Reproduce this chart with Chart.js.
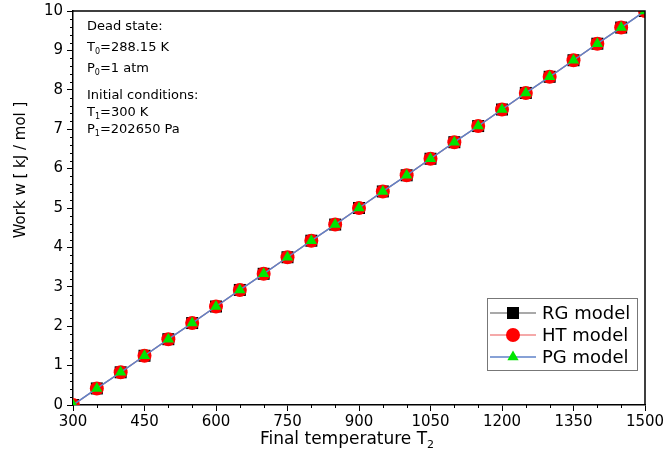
<!DOCTYPE html>
<html>
<head>
<meta charset="utf-8">
<script src="https://cdn.jsdelivr.net/npm/chart.js@4.4.0/dist/chart.umd.min.js"></script>
<style>
  html, body { margin: 0; padding: 0; background: #fff; }
  #c { display: block; }
</style>
</head>
<body>
<canvas id="c" width="664" height="457"></canvas>
<script>
// data
const temps = [300, 350, 400, 450, 500, 550, 600, 650, 700, 750, 800, 850, 900,
  950, 1000, 1050, 1100, 1150, 1200, 1250, 1300, 1350, 1400, 1450, 1500];
const rgWork = [0, 0.42, 0.83, 1.25, 1.67, 2.08, 2.50, 2.92, 3.33, 3.75, 4.17, 4.58, 5.00,
  5.42, 5.83, 6.25, 6.67, 7.08, 7.50, 7.92, 8.33, 8.75, 9.17, 9.58, 10.0];
const htWork = [0, 0.42, 0.83, 1.25, 1.67, 2.08, 2.50, 2.92, 3.33, 3.75, 4.17, 4.58, 5.00,
  5.42, 5.83, 6.25, 6.67, 7.08, 7.50, 7.92, 8.33, 8.75, 9.17, 9.58, 10.0];
const pgWork = [0, 0.42, 0.83, 1.25, 1.67, 2.08, 2.50, 2.92, 3.33, 3.75, 4.17, 4.58, 5.00,
  5.42, 5.83, 6.25, 6.67, 7.08, 7.50, 7.92, 8.33, 8.75, 9.17, 9.58, 10.0];
const seriesNames = ["RG model", "HT model", "PG model"];
const xTicks = [300, 450, 600, 750, 900, 1050, 1200, 1350, 1500];

// annotation lines: [main, subscript, rest]
const noteLines = [
  ["Dead state:", "", ""],
  ["T", "0", "=288.15 K"],
  ["P", "0", "=1 atm"],
  ["Initial conditions:", "", ""],
  ["T", "1", "=300 K"],
  ["P", "1", "=202650 Pa"]
];

const FONT = "'DejaVu Sans', Arial, sans-serif";
const toXY = ys => temps.map((t, i) => ({ x: t, y: ys[i] }));

// draws a word with an optional subscript, returns end x
function drawSub(ctx, x, y, main, sub, rest, size) {
  ctx.font = size + "px " + FONT;
  ctx.fillText(main, x, y);
  x += ctx.measureText(main).width;
  if (sub) {
    ctx.font = Math.round(size * 0.65) + "px " + FONT;
    ctx.fillText(sub, x, y + size * 0.3);
    x += ctx.measureText(sub).width;
    ctx.font = size + "px " + FONT;
  }
  if (rest) {
    ctx.fillText(rest, x, y);
    x += ctx.measureText(rest).width;
  }
  return x;
}

const decorPlugin = {
  id: "decor",
  afterDraw(chart) {
    const ctx = chart.ctx;
    const area = chart.chartArea;
    const xs = chart.scales.x, ys = chart.scales.y;
    ctx.save();
    ctx.strokeStyle = "#000";

    // top and right frame
    ctx.lineWidth = 1.5;
    ctx.beginPath();
    ctx.moveTo(area.left, area.top);
    ctx.lineTo(area.right, area.top);
    ctx.lineTo(area.right, area.bottom);
    ctx.stroke();

    // minor ticks
    ctx.lineWidth = 1;
    ctx.beginPath();
    for (let v = 350; v < 1500; v += 50) {
      if (v % 150 === 0) continue;
      const px = Math.round(xs.getPixelForValue(v)) + 0.5;
      ctx.moveTo(px, area.bottom);
      ctx.lineTo(px, area.bottom + 3);
    }
    for (let k = 1; k < 50; k++) {
      if (k % 5 === 0) continue;
      const py = Math.round(ys.getPixelForValue(k * 0.2)) + 0.5;
      ctx.moveTo(area.left, py);
      ctx.lineTo(area.left - 3, py);
    }
    ctx.stroke();

    // axis titles
    ctx.fillStyle = "#000";
    ctx.textBaseline = "middle";
    ctx.textAlign = "left";
    ctx.font = "17px " + FONT;
    const xt = "Final temperature T";
    const w1 = ctx.measureText(xt).width;
    ctx.font = "11px " + FONT;
    const w2 = ctx.measureText("2").width;
    const sx = 347 - (w1 + w2) / 2;
    drawSub(ctx, sx, 440, xt, "2", "", 17);

    ctx.save();
    ctx.translate(21, 170);
    ctx.rotate(-Math.PI / 2);
    ctx.textAlign = "center";
    ctx.font = "15px " + FONT;
    ctx.fillText("Work w [ kJ / mol ]", 0, 0);
    ctx.restore();

    // annotation block
    const noteY = [27, 48, 69, 96, 113, 130];
    noteLines.forEach((l, i) => drawSub(ctx, 87, noteY[i], l[0], l[1], l[2], 13));

    // legend
    const bx = 487, by = 298, bw = 150, bh = 72;
    ctx.fillStyle = "#fff";
    ctx.fillRect(bx, by, bw, bh);
    ctx.strokeStyle = "#777";
    ctx.lineWidth = 1;
    ctx.strokeRect(bx + 0.5, by + 0.5, bw, bh);
    const rowY = [313, 335, 357];
    chart.data.datasets.forEach((ds, i) => {
      const y = rowY[i];
      ctx.strokeStyle = ds.borderColor;
      ctx.lineWidth = 1.5;
      ctx.beginPath();
      ctx.moveTo(490, y);
      ctx.lineTo(536, y);
      ctx.stroke();
      ctx.fillStyle = ds.pointBackgroundColor;
      ctx.strokeStyle = ds.pointBorderColor;
      ctx.lineWidth = 1;
      Chart.helpers.drawPoint(ctx, {
        pointStyle: ds.pointStyle,
        radius: ds.pointRadius,
        borderWidth: 0,
        rotation: 0
      }, 513, y);
      ctx.fillStyle = "#000";
      ctx.font = "18px " + FONT;
      ctx.textAlign = "left";
      ctx.fillText(ds.label, 542, y + 1);
    });
    ctx.restore();
  }
};

new Chart(document.getElementById("c"), {
  type: "line",
  data: {
    datasets: [
      {
        label: seriesNames[0], data: toXY(rgWork), order: 3,
        borderColor: "#8c8c8c", borderWidth: 1.2,
        pointStyle: "rect", pointRadius: 8.5,
        pointBackgroundColor: "#000", pointBorderColor: "#000", pointBorderWidth: 0
      },
      {
        label: seriesNames[1], data: toXY(htWork), order: 2,
        borderColor: "#f28c8c", borderWidth: 1.2,
        pointStyle: "circle", pointRadius: 7,
        pointBackgroundColor: "#ff0000", pointBorderColor: "#ff0000", pointBorderWidth: 0
      },
      {
        label: seriesNames[2], data: toXY(pgWork), order: 1,
        borderColor: "#5f82c8", borderWidth: 1.5,
        pointStyle: "triangle", pointRadius: 6.5,
        pointBackgroundColor: "#00e600", pointBorderColor: "#00e600", pointBorderWidth: 0
      }
    ]
  },
  options: {
    responsive: false,
    animation: false,
    clip: 0,
    layout: { padding: { top: 11, right: 19, left: 0, bottom: 0 } },
    plugins: { legend: { display: false }, tooltip: { enabled: false } },
    elements: { line: { tension: 0 } },
    scales: {
      x: {
        type: "linear", min: 300, max: 1500,
        afterFit: s => { s.height = 52; s.paddingLeft = 0; s.paddingRight = 0; },
        afterBuildTicks: s => { s.ticks = xTicks.map(v => ({ value: v })); },
        ticks: {
          color: "#000", font: { family: FONT, size: 15 }, padding: 2,
          maxRotation: 0, autoSkip: false, callback: v => String(v)
        },
        grid: { drawOnChartArea: false, tickLength: 6, color: "#000", tickWidth: 1 },
        border: { color: "#000", width: 1.5 }
      },
      y: {
        min: 0, max: 10,
        afterFit: s => { s.width = 73; s.paddingTop = 0; s.paddingBottom = 0; },
        ticks: { stepSize: 1, color: "#000", font: { family: FONT, size: 15 }, padding: 4 },
        grid: { drawOnChartArea: false, tickLength: 6, color: "#000", tickWidth: 1 },
        border: { color: "#000", width: 1.5 }
      }
    }
  },
  plugins: [decorPlugin]
});
</script>
</body>
</html>
